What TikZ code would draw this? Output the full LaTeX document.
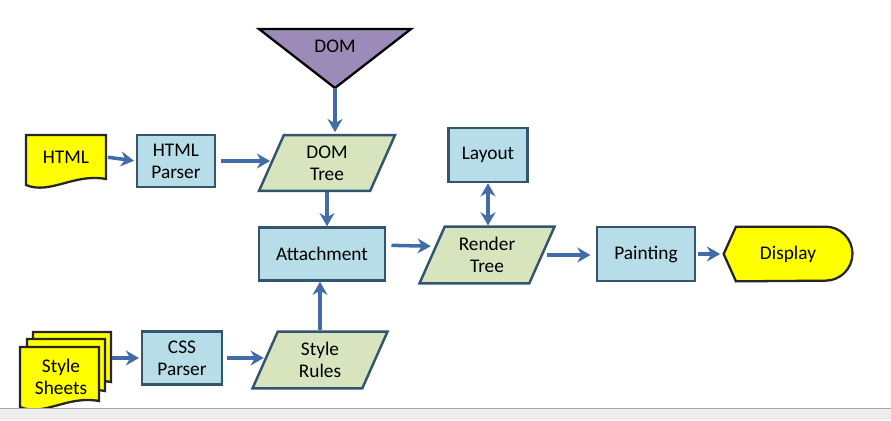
\documentclass[tikz,border=0pt]{standalone}
\usepackage{fontspec}
\setmainfont{Carlito}
\usetikzlibrary{shapes.geometric,arrows.meta}

\definecolor{boxblue}{RGB}{183,221,232}
\definecolor{boxline}{RGB}{52,84,112}
\definecolor{treegreen}{RGB}{215,228,189}
\definecolor{dompurple}{RGB}{156,139,184}
\definecolor{docyellow}{RGB}{255,255,0}
\definecolor{arrowblue}{RGB}{66,108,168}

\tikzset{
  txt/.style={align=center,font=\fontsize{11}{12.5}\selectfont,inner sep=0pt},
  procbox/.style={txt,draw=boxline,line width=1.4pt,fill=boxblue},
  treebox/.style={txt,trapezium,trapezium left angle=66,trapezium right angle=114,
    trapezium stretches body,inner ysep=6pt,draw=boxline,line width=1.4pt,fill=treegreen},
  arr/.style={draw=arrowblue,line width=2pt,-{Stealth[length=7.5pt,width=8.5pt]}},
  docline/.style={draw=black!85,line width=1.3pt,fill=docyellow}
}

\newcommand{\pagedoc}[4]{%
  \draw[docline] (#1,#2) -- ({#1+#3},#2) -- ({#1+#3},{#2+#4-8})
    .. controls ({#1+0.6*#3},{#2+#4-14}) and ({#1+0.3*#3},{#2+#4+8}) .. (#1,{#2+#4-2}) -- cycle;}

\begin{document}
\begin{tikzpicture}[x=0.02cm,y=-0.02cm]
        \useasboundingbox (0,0) rectangle (891,420);

        \coordinate (domtip) at (335,88);
        \draw[line width=1.3pt,fill=dompurple] (259,29) -- (411,29) -- (domtip) -- cycle;
        \node[txt] (dom) at (335,46) {DOM};

        \pagedoc{26}{135}{80}{52}
        \node[txt,minimum width=1.6cm] (html) at (66,157) {HTML};

        \pagedoc{33}{332}{78}{58}
        \pagedoc{27}{339}{78}{60}
        \pagedoc{20}{347}{79}{62}
        \node[txt,minimum width=2.04cm] (sheets) at (61,377) {Style\\Sheets};

        \node[procbox,minimum width=1.56cm,minimum height=1.04cm] (hparser) at (176,161) {HTML\\Parser};
        \node[treebox,minimum width=2.72cm] (domtree) at (327,163) {DOM\\Tree};
        \node[procbox,minimum width=1.58cm,minimum height=1.08cm] (layout) at (488,155) {Layout};
        \node[procbox,minimum width=2.52cm,minimum height=1.06cm] (attach) at (322,254) {Attachment};
        \node[treebox,minimum width=2.7cm] (rtree) at (487,255) {Render\\Tree};
        \node[procbox,minimum width=1.96cm,minimum height=1.08cm] (paint) at (646,254) {Painting};
        \node[procbox,minimum width=1.6cm,minimum height=1.06cm] (cssparser) at (182,358) {CSS\\Parser};
        \node[treebox,minimum width=2.7cm] (srules) at (320,360) {Style\\Rules};

        \node[txt,minimum width=2.56cm,minimum height=1.08cm] (disp) at (788,254) {};
        \draw[docline] (disp.west) -- ([xshift=7pt]disp.north west) -- ([xshift=-15.3pt]disp.north east)
        arc[start angle=-90,end angle=90,radius=27] -- ([xshift=7pt]disp.south west) -- cycle;
        \node[txt] at (disp) {Display};

        \draw[arr,shorten <=1pt,shorten >=1pt] (html.east) -- (hparser.west);
        \draw[arr,shorten <=3pt] (hparser.east) -- (hparser.east -| domtree.west);
        \draw[arr,shorten >=1pt] (domtip) -- (domtip |- domtree.north);
        \draw[arr] (domtree.south) -- (domtree.south |- attach.north);
        \draw[arr,shorten <=3pt] ([yshift=5pt]attach.east) -- ([yshift=5pt]rtree.west);
        \draw[arr] (srules.north) -- (srules.north |- attach.south);
        \draw[draw=arrowblue,line width=2pt,{Stealth[length=7.5pt,width=8.5pt]}-{Stealth[length=7.5pt,width=8.5pt]}]
        (rtree.north -| layout.south) -- (layout.south);
        \draw[arr,shorten <=2pt,shorten >=3pt] (rtree.east) -- (rtree.east -| paint.west);
        \draw[arr,shorten <=1pt,shorten >=2pt] (paint.east) -- (disp.west);
        \draw[arr,shorten >=1pt] (cssparser.west -| sheets.east) -- (cssparser.west);
        \draw[arr,shorten <=2pt] (cssparser.east) -- (cssparser.east -| srules.west);

        \fill[black!7] (0,409) rectangle (891,420);
        \draw[black!35,line width=0.8pt] (0,408.5) -- (891,408.5);
\end{tikzpicture}
\end{document}
